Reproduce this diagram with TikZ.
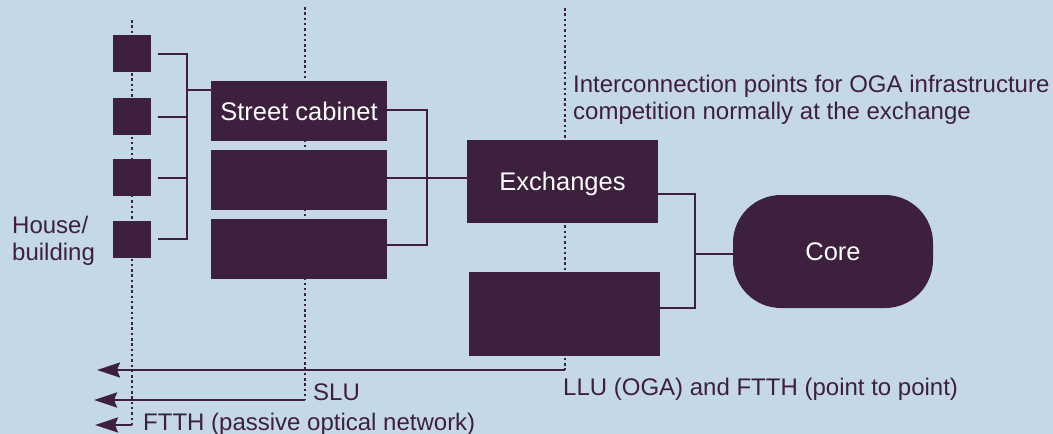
\documentclass[tikz,border=0pt]{standalone}
\usepackage{fontspec}
\setmainfont{Liberation Sans}
\usetikzlibrary{arrows.meta,calc}
\definecolor{bgblue}{RGB}{197,216,232}
\definecolor{plum}{RGB}{61,32,61}
\begin{document}
\begin{tikzpicture}[x=1pt,y=-1pt,
  box/.style={fill=plum, draw=none, inner sep=0pt, text=white, text depth=0pt,
              font=\fontsize{25.5}{30}\selectfont},
  house/.style={fill=plum, draw=none, minimum width=38pt, minimum height=37pt, inner sep=0pt},
  conn/.style={draw=plum, line width=2pt},
  guide/.style={draw=plum, line width=2.5pt, dash pattern=on 2.5pt off 2.8pt},
  reach/.style={draw=plum, line width=2.6pt, -{Stealth[length=23pt,width=15pt,inset=3pt]}},
  note/.style={text=plum, font=\fontsize{24}{27}\selectfont, inner sep=0pt}
]
\fill[bgblue] (0,0) rectangle (1053,434);
\useasboundingbox (0,0) rectangle (1053,434);

% dotted guide lines: house, street cabinet, exchange
\coordinate (gh) at (132,20);  \coordinate (ghb) at (132,425);
\coordinate (gc) at (305,7);   \coordinate (gcb) at (305,400);
\coordinate (ge) at (565,8);   \coordinate (geb) at (565,370);
\draw[guide] (gh) -- (ghb);
\draw[guide] (gc) -- (gcb);
\draw[guide] (ge) -- (geb);

% houses / buildings
\node[house] (h1) at (132,53.5) {};
\node[house] (h2) at (132,116.5) {};
\node[house] (h3) at (132,177.5) {};
\node[house] (h4) at (132,239) {};

% street cabinets
\node[box, minimum width=176pt, minimum height=60pt] (c1) at (299,111) {Street cabinet};
\node[box, minimum width=176pt, minimum height=60pt] (c2) at (299,180) {};
\node[box, minimum width=176pt, minimum height=60pt] (c3) at (299,249) {};

% exchanges
\node[box, minimum width=191pt, minimum height=83pt] (ex1) at (562.5,181.5) {Exchanges};
\node[box, minimum width=191pt, minimum height=84pt] (ex2) at (564.5,314) {};

% core network
\node[box, rounded corners=48pt, minimum width=200pt, minimum height=113pt] (core) at (833,251.5) {Core};

% houses to street cabinet
\draw[conn] ([xshift=7pt]h1.east) -| ([xshift=36pt]h1.east) |- ([xshift=7pt]h4.east);
\draw[conn] ([xshift=7pt]h2.east) -- ([xshift=36pt]h2.east);
\draw[conn] ([xshift=7pt]h3.east) -- ([xshift=36pt]h3.east);
\coordinate (hfeed) at (187,90);
\draw[conn] (hfeed) -- (hfeed -| c1.west);

% street cabinets to exchange
\draw[conn] ([yshift=1pt]c1.east) -| ([xshift=40pt,yshift=1pt]c1.east) |- ([yshift=4pt]c3.east);
\coordinate (cx) at ([yshift=2pt]c2.east);
\draw[conn] (cx) -- (cx -| ex1.west);

% exchanges to core
\coordinate (kb) at (695,254);
\draw[conn] ([yshift=-12.5pt]ex1.east) -| (kb) |- ([yshift=6pt]ex2.east);
\draw[conn] (kb) -- (kb -| core.west);

% reach of each unbundling option
\coordinate (t1) at (97,370);
\coordinate (t2) at (94,400);
\coordinate (t3) at (95,425);
\draw[reach] (geb) -- (t1);
\draw[reach] (gcb) -- (t2);
\draw[reach] (ghb) -- (t3);

% labels (base anchor of a multi-line node sits on its last line)
\node[note, anchor=base west, align=left] (lhouse) at (12,260) {House/\\building};
\node[note, anchor=base west, align=left] (linter) at (573,119)
  {Interconnection points for OGA infrastructure\\competition normally at the exchange};
\node[note, anchor=base west] (lslu) at (313,400) {SLU};
\node[note, anchor=base west] (lllu) at (563,395) {LLU (OGA) and FTTH (point to point)};
\node[note, anchor=base west] (lftth) at (143,430) {FTTH (passive optical network)};
\end{tikzpicture}
\end{document}
